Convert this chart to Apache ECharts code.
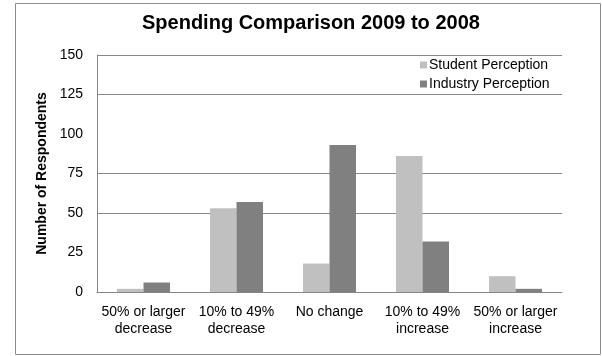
<!DOCTYPE html>
<html>
<head>
<meta charset="utf-8">
<script src="https://cdn.jsdelivr.net/npm/echarts@6/dist/echarts.min.js"></script>
<style>
    html, body { margin: 0; padding: 0; background: #fff; }
    #chart1 { width: 602px; height: 356px; }
</style>
</head>
<body>
<div id="chart1"></div>
<script>
var categories = ['50% or larger\ndecrease', '10% to 49%\ndecrease', 'No change', '10% to 49%\nincrease', '50% or larger\nincrease']
var studentPerception = [2, 53, 18, 86, 10]
var industryPerception = [6, 57, 93, 32, 2]
var yTicks = [0, 25, 50, 75, 100, 125, 150]

var FONT = 'Liberation Sans, Arial, sans-serif'
var GRID = '#868686'

function _initChart () {
    var myChart = echarts.init(document.getElementById('chart1'))
    var option = {
        animation: false,
        title: {
            text: 'Spending Comparison 2009 to 2008',
            left: 142,
            top: 13,
            padding: 0,
            textStyle: {
                fontFamily: FONT,
                fontSize: 20,
                fontWeight: 'bold',
                color: '#000'
            }
        },
        legend: {
            orient: 'vertical',
            left: 420,
            top: 58,
            padding: 0,
            itemWidth: 7,
            itemHeight: 7,
            itemGap: 5,
            icon: 'rect',
            textStyle: {
                fontFamily: FONT,
                fontSize: 14,
                color: '#000',
                padding: [0, 0, 0, -3]
            },
            data: ['Student Perception', 'Industry Perception']
        },
        grid: {
            left: 97,
            right: 40,
            top: 55,
            bottom: 64
        },
        graphic: [{
            type: 'rect',
            shape: { x: 15.5, y: 3.5, width: 585, height: 351 },
            style: { fill: 'none', stroke: '#8c8c8c', lineWidth: 1 },
            z: -1
        }],
        xAxis: [{
            type: 'category',
            data: categories,
            axisTick: { show: false },
            axisLine: { lineStyle: { color: GRID } },
            axisLabel: {
                fontFamily: FONT,
                fontSize: 14,
                lineHeight: 17,
                color: '#000',
                margin: 12,
                interval: 0
            }
        }],
        yAxis: [{
            type: 'value',
            min: yTicks[0],
            max: yTicks[yTicks.length - 1],
            interval: yTicks[1] - yTicks[0],
            name: 'Number of Respondents',
            nameLocation: 'middle',
            nameGap: 44,
            nameTextStyle: {
                fontFamily: FONT,
                fontSize: 14,
                fontWeight: 'bold',
                color: '#000'
            },
            axisTick: { show: false },
            axisLine: { show: true, lineStyle: { color: GRID } },
            axisLabel: {
                fontFamily: FONT,
                fontSize: 14,
                color: '#000',
                margin: 14
            },
            splitLine: {
                show: true,
                lineStyle: {
                    // 25 and 100 have no gridline in the original
                    color: [GRID, 'transparent', GRID, GRID, 'transparent', GRID, GRID]
                }
            }
        }],
        series: [
            {
                name: 'Student Perception',
                type: 'bar',
                barWidth: 26.5,
                barGap: '0%',
                itemStyle: { color: '#c0c0c0' },
                data: studentPerception
            },
            {
                name: 'Industry Perception',
                type: 'bar',
                barWidth: 26.5,
                barGap: '0%',
                itemStyle: { color: '#808080' },
                data: industryPerception
            }
        ]
    }
    myChart.setOption(option)
}

_initChart()
</script>
</body>
</html>
